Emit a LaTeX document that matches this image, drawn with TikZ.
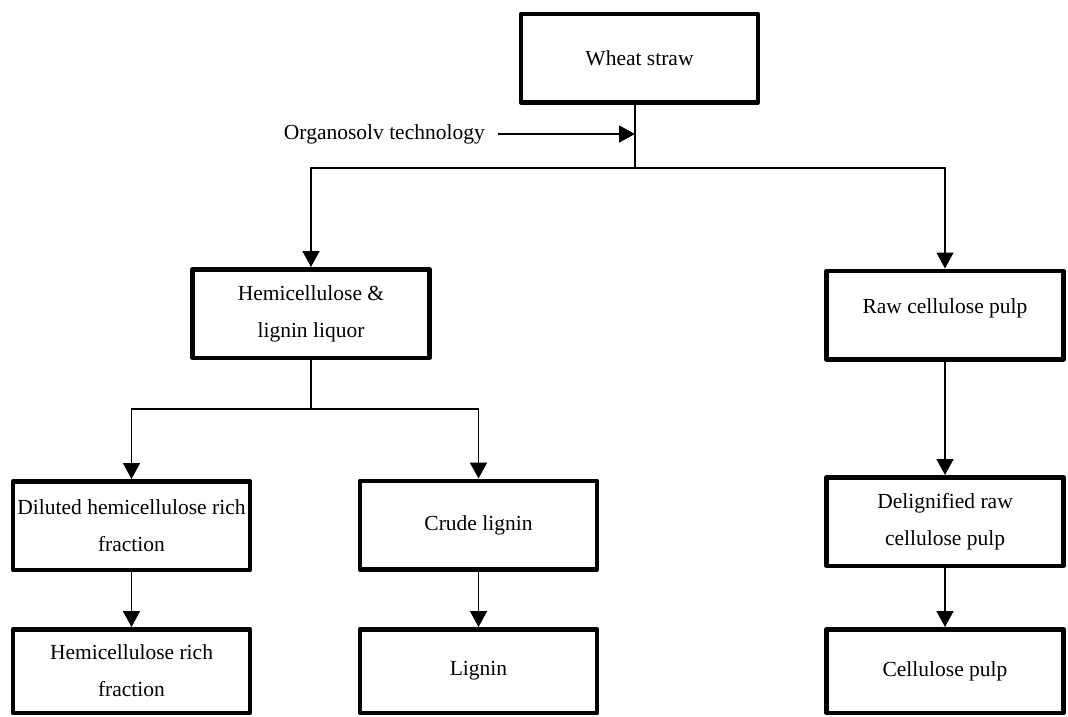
\documentclass[tikz,border=0pt]{standalone}
\usepackage{fontspec}
\setmainfont{Liberation Serif}
\usetikzlibrary{arrows.meta}
\begin{document}
\begin{tikzpicture}[x=1pt,y=-1pt,
  txt/.style={font=\fontsize{21.5}{37}\selectfont},
  box/.style={txt, draw, line width=4.5pt, line join=round, align=center,
    minimum width=237pt, minimum height=88.5pt, inner sep=2pt},
  lowbox/.style={box, minimum height=83.5pt},
  link/.style={line width=1.6pt},
  flow/.style={link, -{Triangle[width=17pt,length=16pt]}},
]
\useasboundingbox (0,0) rectangle (1068,716);

% process stages
\node[box] (wheat) at (639.5,58) {Wheat straw};
\node[box] (hemi) at (311,313.5) {Hemicellulose \&\\lignin liquor};
\node[box] (raw) at (945,315) {\raisebox{7pt}[\height][\depth]{Raw cellulose pulp}};
\node[box] (diluted) at (131.5,525.5) {Diluted hemicellulose rich\\fraction};
\node[box] (crude) at (478.5,525) {Crude lignin};
\node[box] (delig) at (945,521.5) {Delignified raw\\cellulose pulp};
\node[lowbox] (hrich) at (131.5,671) {Hemicellulose rich\\fraction};
\node[lowbox] (lignin) at (478.5,671) {Lignin};
\node[lowbox] (cellp) at (945,671) {Cellulose pulp};

% treatment label
\node[txt, inner sep=0pt, anchor=east] (org) at (485,134) {Organosolv technology};

% branch points
\coordinate (split) at (635,168);
\coordinate (hsplit) at (311,409);

% connectors
\draw[link] ([xshift=-4.5pt]wheat.south) -- (split);
\draw[flow] ([xshift=13pt]org.east) -- (org.east -| split);
\draw[flow] (split) -| (hemi.north);
\draw[flow] (split) -| (raw.north);

\draw[link] (hemi.south) -- (hsplit);
\draw[flow] (hsplit) -| (diluted.north);
\draw[flow] (hsplit) -| (crude.north);

\draw[flow] (diluted.south) -- (hrich.north);
\draw[flow] (crude.south) -- (lignin.north);
\draw[flow] (raw.south) -- (delig.north);
\draw[flow] (delig.south) -- (cellp.north);
\end{tikzpicture}
\end{document}
